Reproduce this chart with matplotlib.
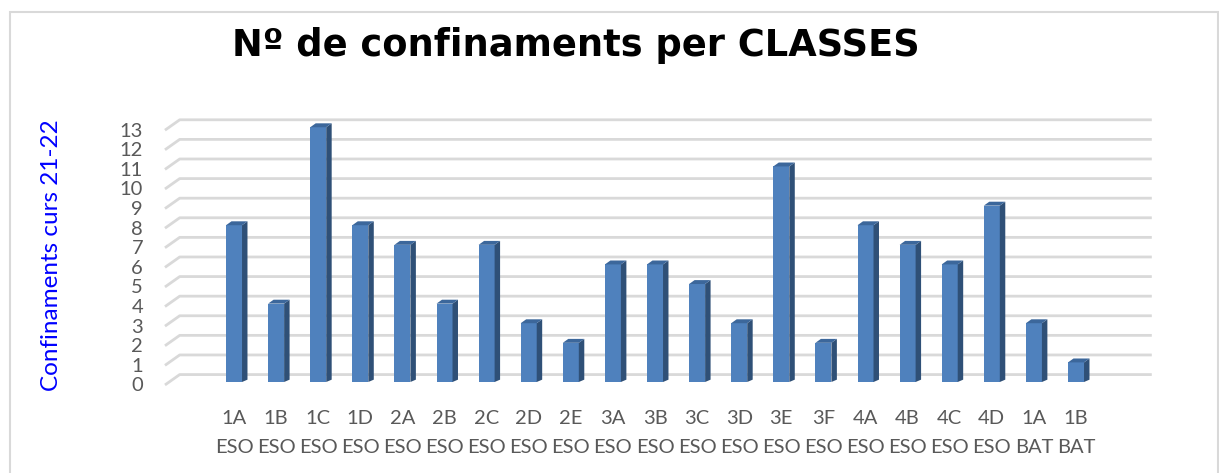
import matplotlib.pyplot as plt
from matplotlib.patches import Polygon, Rectangle

# Dades
grups = ['1A', '1B', '1C', '1D', '2A', '2B', '2C', '2D', '2E', '3A', '3B',
         '3C', '3D', '3E', '3F', '4A', '4B', '4C', '4D', '1A', '1B']
nivells = ['ESO'] * 19 + ['BAT', 'BAT']
confinaments = [8, 4, 13, 8, 7, 4, 7, 3, 2, 6, 6, 5, 3, 11, 2, 8, 7, 6, 9, 3, 1]
yticks = list(range(0, 14))

front = '#4f81bd'
side = '#2f5077'
top = '#3c679b'
grid_c = '#d9d9d9'
txt_c = '#595959'

fig = plt.figure(figsize=(12.19, 4.73), dpi=100)

# marc del grafic
fig.patches.append(Rectangle((10 / 1219, -0.1), 1208 / 1219, 1 - 12 / 473 + 0.1,
                             transform=fig.transFigure, fill=False,
                             edgecolor=grid_c, linewidth=1.5))

ax = fig.add_axes([160 / 1219, 1 - 395 / 473, 1000 / 1219, 295 / 473])
ax.set_xlim(-1.758, 21.995)
ax.set_ylim(-0.663, 14.39)
ax.axis('off')

x = list(range(len(grups)))
dx = 0.13   # profunditat en x
dy = 0.2    # profunditat en y

# paret del fons: linies de graella
for v in yticks:
    ax.plot([-1.64, -1.29, 21.8], [v - 0.15, v + 0.38, v + 0.38],
            color=grid_c, lw=2, solid_capstyle='butt', zorder=1)
    ax.text(-2.16, v - 0.2, str(v), ha='right', va='center',
            fontsize=14.5, color=txt_c, family='Lato')

w = 0.38
bars = ax.bar(x, confinaments, width=w, color=front, zorder=3,
              edgecolor='none')
for b in bars:
    x0 = b.get_x()
    x1 = x0 + b.get_width()
    h = b.get_height()
    ax.add_patch(Polygon([(x1, 0), (x1 + dx, dy * 0.6), (x1 + dx, h + dy),
                          (x1, h)], closed=True, facecolor=side,
                         edgecolor='none', zorder=3))
    ax.add_patch(Polygon([(x0, h), (x1, h), (x1 + dx, h + dy),
                          (x0 + dx, h + dy)], closed=True, facecolor=top,
                         edgecolor='none', zorder=3))

for xi, g, n in zip(x, grups, nivells):
    ax.text(xi, -1.84, g, ha='center', va='center', fontsize=14.5,
            color=txt_c, family='Lato', clip_on=False)
    ax.text(xi, -3.32, n, ha='center', va='center', fontsize=14.5,
            color=txt_c, family='Lato', clip_on=False)

fig.text(52 / 1219, 1 - 255 / 473, 'Confinaments curs 21-22', rotation=90,
         ha='center', va='center', fontsize=17.5, color='#0000ff', family='Lato')

fig.text(576 / 1219, 1 - 46 / 473, 'Nº de confinaments per CLASSES',
         ha='center', va='center', fontsize=26.5, fontweight='bold',
         family='DejaVu Sans', color='black')

fig.savefig('out.png', dpi=100)
